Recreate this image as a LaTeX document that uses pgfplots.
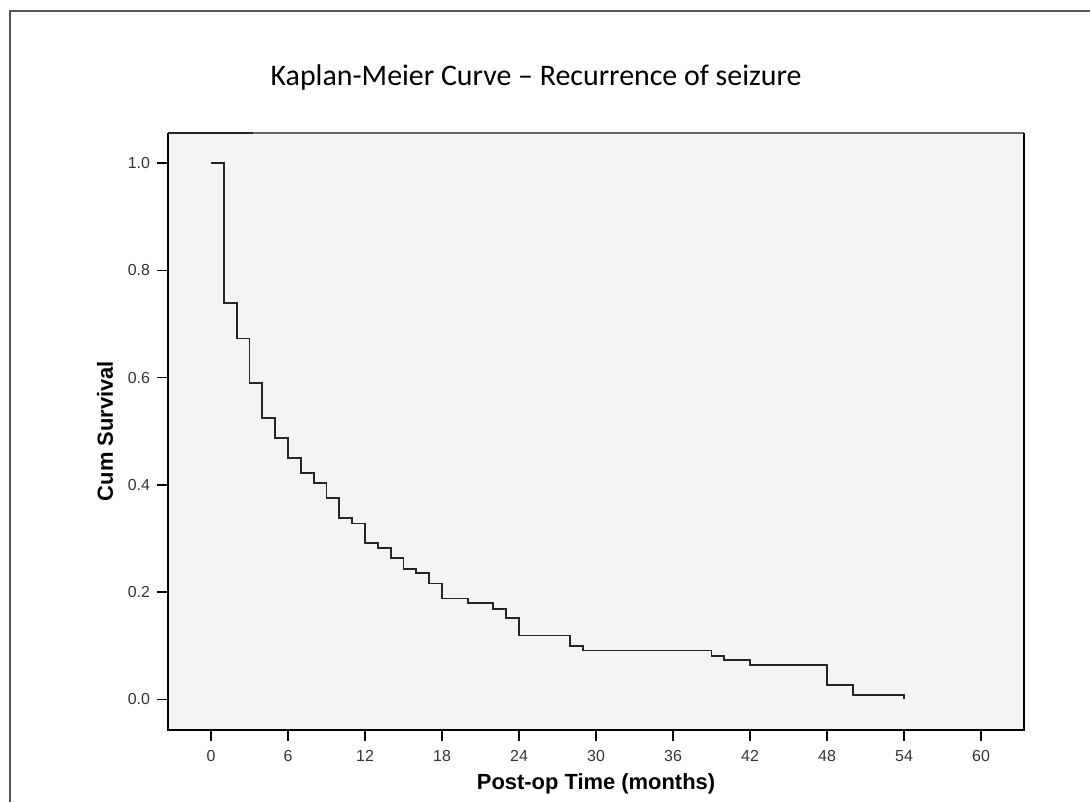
\documentclass[border=0pt]{standalone}
\usepackage{pgfplots}
\pgfplotsset{compat=1.18}
\usepackage{fontspec}
\setmainfont{Liberation Sans}
\newfontfamily\titlefont{Carlito}
\definecolor{plotbg}{HTML}{F4F4F4}
\definecolor{framegray}{HTML}{555555}
\begin{document}
\begin{tikzpicture}[x=1bp,y=1bp]
\useasboundingbox (0,0) rectangle (545,401);
\fill[white] (0,0) rectangle (545,401);
% outer frame
\draw[framegray, line width=1bp] (4.75,0) -- (4.75,395.5) -- (545,395.5);
\begin{axis}[
  at={(84bp,36bp)}, anchor=south west,
  scale only axis, width=428bp, height=298.5bp,
  xmin=-3.35, xmax=63.35, ymin=-0.0573, ymax=1.0565,
  axis background/.style={fill=plotbg},
  axis line style={draw=none},
  xtick={0,6,...,60}, ytick={0,0.2,...,1.0},
  tick align=outside, xtick pos=bottom, ytick pos=left,
  major tick length=5.5bp,
  tick style={black, line width=0.8bp},
  /pgf/number format/assume math mode=true,
  ticklabel style={font=\fontsize{8}{9}\selectfont, text=black!80},
  yticklabel style={/pgf/number format/.cd, fixed, fixed zerofill, precision=1},
  xticklabel style={yshift=-1bp},
  clip=false,
]
\addplot[const plot, color=black!85, line width=0.9bp] coordinates {
(0,1.0) (1,0.739) (2,0.673) (3,0.590) (4,0.525) (5,0.488) (6,0.450)
(7,0.422) (8,0.403) (9,0.375) (10,0.338) (11,0.328) (12,0.291) (13,0.283)
(14,0.263) (15,0.243) (16,0.235) (17,0.216) (18,0.188) (20,0.179) (22,0.168)
(23,0.151) (24,0.119) (28,0.100) (29,0.091) (39,0.081) (40,0.073) (42,0.064)
(48,0.027) (50,0.008) (54,0.0)
};
\draw[black!60, line width=0.8bp] (rel axis cs:0,1) -- (rel axis cs:1,1);
\draw[black!85, line width=1.1bp] (rel axis cs:0,1) -- (rel axis cs:0.0993,1);
\draw[black, line width=1bp] (rel axis cs:0,1) -- (rel axis cs:0,0) -- (rel axis cs:1,0) -- (rel axis cs:1,1);
\end{axis}
\node[font=\titlefont\fontsize{15}{17}\selectfont] at (268,362) {Kaplan-Meier Curve – Recurrence of seizure};
\node[font=\bfseries\fontsize{11}{13}\selectfont] at (298,9) {Post-op Time (months)};
\node[font=\bfseries\fontsize{11}{13}\selectfont, rotate=90] at (52.5,185.5) {Cum Survival};
\end{tikzpicture}
\end{document}
